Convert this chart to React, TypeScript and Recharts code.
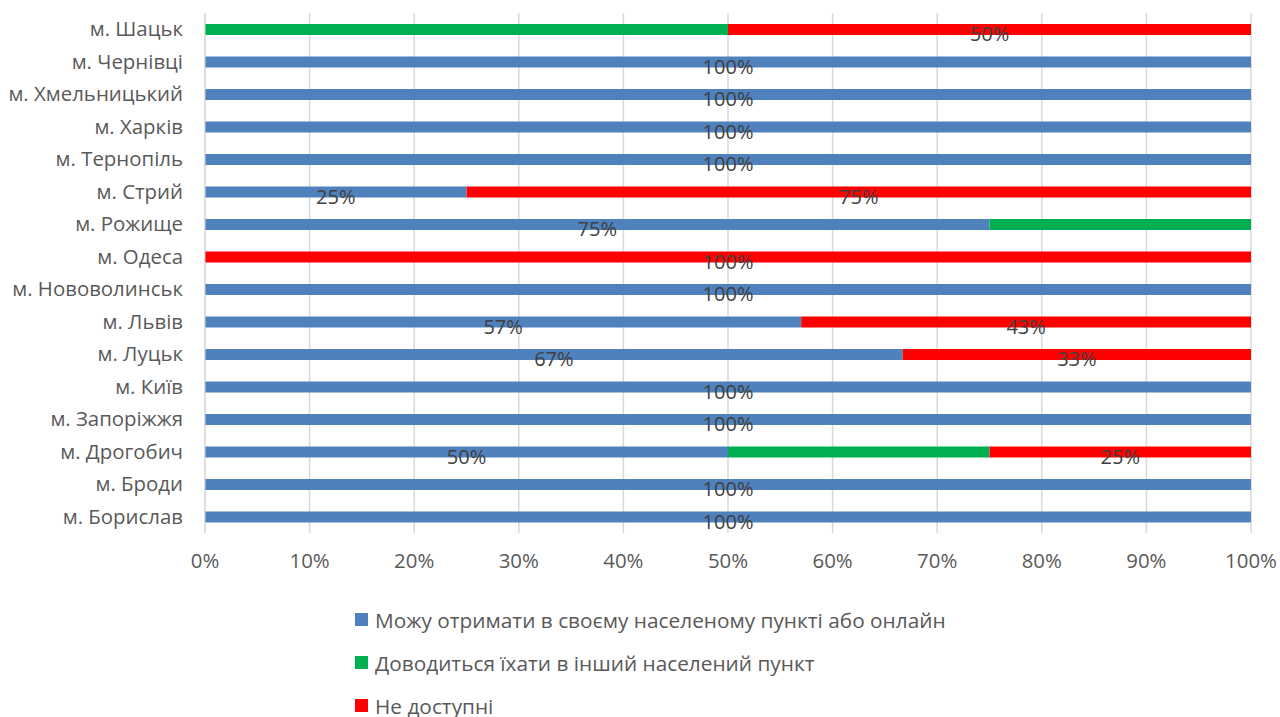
import { BarChart, Bar, XAxis, YAxis, CartesianGrid, Legend, LabelList } from "recharts";

const cities = [
  "м. Шацьк",
  "м. Чернівці",
  "м. Хмельницький",
  "м. Харків",
  "м. Тернопіль",
  "м. Стрий",
  "м. Рожище",
  "м. Одеса",
  "м. Нововолинськ",
  "м. Львів",
  "м. Луцьк",
  "м. Київ",
  "м. Запоріжжя",
  "м. Дрогобич",
  "м. Броди",
  "м. Борислав",
];

// shares in %, same order as cities
const local = [0, 100, 100, 100, 100, 25, 75, 0, 100, 57, 66.7, 100, 100, 50, 100, 100];
const travel = [50, 0, 0, 0, 0, 0, 25, 0, 0, 0, 0, 0, 0, 25, 0, 0];
const none = [50, 0, 0, 0, 0, 75, 0, 100, 0, 43, 33.3, 0, 0, 25, 0, 0];

const xTicks = [0, 10, 20, 30, 40, 50, 60, 70, 80, 90, 100];

const series = [
  { key: "local", name: "Можу отримати в своєму населеному пункті або онлайн", color: "#4f81bd", labels: true },
  { key: "travel", name: "Доводиться їхати в інший населений пункт", color: "#00b050", labels: false },
  { key: "none", name: "Не доступні", color: "#ff0000", labels: true },
];

const rows = cities.map((city, i) => ({
  city,
  local: local[i],
  travel: travel[i],
  none: none[i],
}));

const FONT = "'Open Sans', sans-serif";

function SegmentLabel(props: any) {
  const { x, y, width, height, value } = props;
  if (!value) return null;
  return (
    <text
      x={x + width / 2}
      y={y + height / 2 + 4}
      textAnchor="middle"
      dominantBaseline="central"
      fill="#404040"
      fontSize={20}
      fontFamily={FONT}
    >
      {Math.round(value) + "%"}
    </text>
  );
}

function LegendBox() {
  return (
    <div style={{ fontFamily: FONT, fontSize: 20.8, color: "#595959" }}>
      {series.map((s) => (
        <div key={s.key} style={{ display: "flex", alignItems: "center", height: 43 }}>
          <span style={{ width: 13, height: 13, background: s.color, marginRight: 7 }} />
          <span>{s.name}</span>
        </div>
      ))}
    </div>
  );
}

export default function App() {
  return (
    <div style={{ width: 1280, height: 717, background: "#fff" }}>
      <style>{"body{margin:0}"}</style>
      <BarChart
        width={1280}
        height={717}
        data={rows}
        layout="vertical"
        margin={{ top: 13, right: 29, left: 0, bottom: 134 }}
        barSize={11}
        style={{ fontFamily: FONT }}
      >
        <CartesianGrid horizontal={false} stroke="#d9d9d9" strokeWidth={1.5} />
        <XAxis
          type="number"
          domain={[0, 100]}
          ticks={xTicks}
          tickFormatter={(v) => v + "%"}
          axisLine={false}
          tickLine={false}
          tickSize={0}
          tickMargin={21}
          height={50}
          tick={{ fill: "#595959", fontSize: 20.4 }}
        />
        <YAxis
          type="category"
          dataKey="city"
          width={205}
          axisLine={{ stroke: "#d9d9d9" }}
          tickLine={false}
          tickSize={0}
          tickMargin={22}
          tick={{ fill: "#595959", fontSize: 20.4 }}
        />
        <Legend
          layout="vertical"
          verticalAlign="middle"
          align="center"
          wrapperStyle={{ left: 355, top: 598, width: 800 }}
          content={() => <LegendBox />}
        />
        {series.map((s) => (
          <Bar key={s.key} dataKey={s.key} name={s.name} stackId="a" fill={s.color} isAnimationActive={false}>
            {s.labels && <LabelList dataKey={s.key} content={SegmentLabel} />}
          </Bar>
        ))}
      </BarChart>
    </div>
  );
}
